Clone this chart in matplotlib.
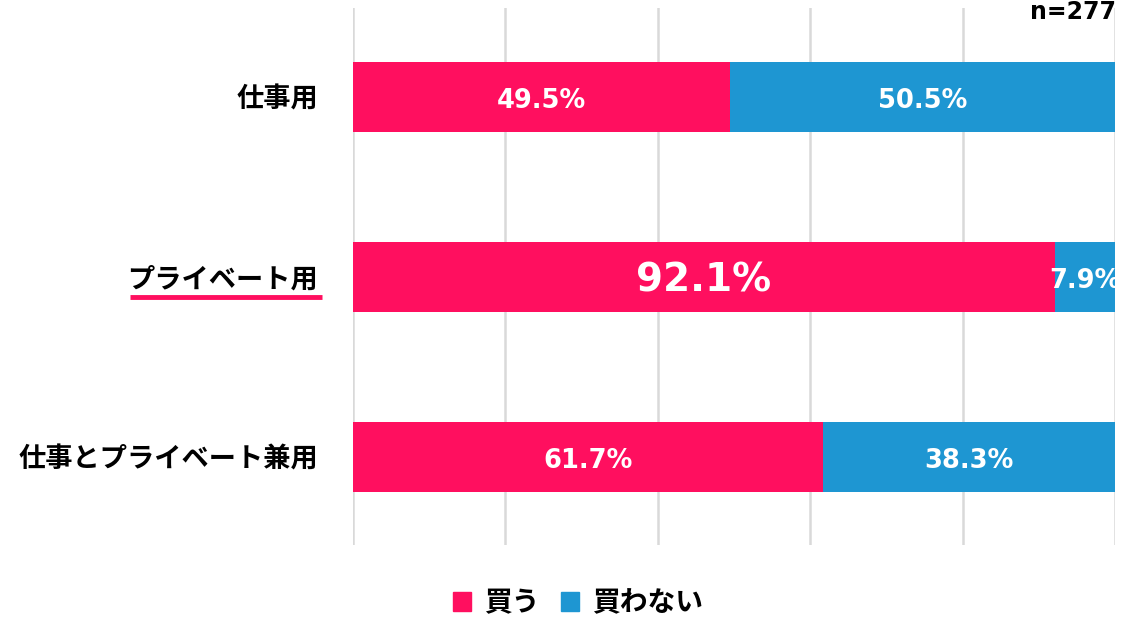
import matplotlib
matplotlib.use("Agg")
import matplotlib.pyplot as plt
from matplotlib.patches import Rectangle
from matplotlib.lines import Line2D

categories = ["仕事用", "プライベート用", "仕事とプライベート兼用"]
buy = [49.5, 92.1, 61.7]
not_buy = [50.5, 7.9, 38.3]
series_names = ["買う", "買わない"]
n_label = "n=277"

PINK = "#FF0F5F"
BLUE = "#1E96D2"
JP = ["Noto Sans CJK JP", "DejaVu Sans"]
NUM = ["DejaVu Sans"]

fig = plt.figure(figsize=(11.34, 6.19), dpi=100)
ax = fig.add_axes([353/1134, 1-545/619, (1115-353)/1134, (545-8)/619])

ypos = list(range(len(categories)))
h = 0.39
ax.barh(ypos, buy, height=h, color=PINK, zorder=3)
ax.barh(ypos, not_buy, left=buy, height=h, color=BLUE, zorder=3)

ax.set_xlim(0, 100)
ax.set_ylim(2.489, -0.494)
for x in range(0, 101, 20):
    ax.axvline(x, color="#D9D9D9", lw=1.8, zorder=1)
for s in ax.spines.values():
    s.set_visible(False)
ax.set_xticks([])
ax.set_yticks(ypos)
ax.set_yticklabels(categories, fontfamily=JP, fontsize=19.6, fontweight="bold")
ax.tick_params(axis="y", length=0, pad=25)

for i, (b, nb) in enumerate(zip(buy, not_buy)):
    big = b > 90
    ax.text(b/2, i + 0.02, f"{b:.1f}%", ha="center", va="center", color="white",
            fontsize=28 if big else 18.5, fontweight="bold", fontfamily=NUM, zorder=4)
    ax.text(b + nb/2, i + 0.02, f"{nb:.1f}%", ha="center", va="center", color="white",
            fontsize=18.5, fontweight="bold", fontfamily=NUM, zorder=4)

fig.text(1116/1134, 1-12/619, n_label, ha="right", va="center", fontsize=17,
         fontweight="bold", fontfamily=NUM)

# underline under the highlighted category label
fig.add_artist(Line2D([130/1134, 322/1134], [1-297/619, 1-297/619],
                      color=PINK, lw=3.5, solid_capstyle="butt"))

handles = [Rectangle((0, 0), 1, 1, color=PINK), Rectangle((0, 0), 1, 1, color=BLUE)]
fig.legend(handles, series_names, loc="center", bbox_to_anchor=(578/1134, 1-603/619),
           ncol=2, frameon=False, prop={"family": JP, "weight": "bold", "size": 20},
           handlelength=0.65, handleheight=0.65, handletextpad=0.45, columnspacing=0.8)

fig.savefig("out.png", dpi=100)
